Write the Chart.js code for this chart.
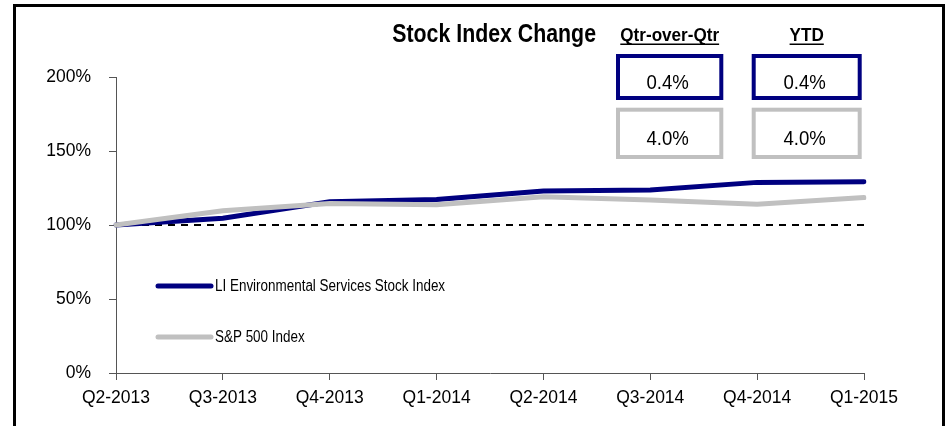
<!DOCTYPE html>
<html>
<head>
<meta charset="utf-8">
<script src="https://cdn.jsdelivr.net/npm/chart.js@4.4.1/dist/chart.umd.min.js"></script>
<style>
  html, body { margin: 0; padding: 0; background: #ffffff; }
  #wrap { position: relative; width: 950px; height: 426px; overflow: hidden; }
  #frame { position: absolute; left: 13px; top: 4px; width: 932px; height: 440px; border: 3px solid #000; box-sizing: border-box; }
  #c { position: absolute; left: 0; top: 0; }
</style>
</head>
<body>
<div id="wrap">
  <div id="frame"></div>
  <canvas id="c" width="950" height="426"></canvas>
</div>
<script>
// ---- data ----
const quarters = ['Q2-2013','Q3-2013','Q4-2013','Q1-2014','Q2-2014','Q3-2014','Q4-2014','Q1-2015'];
const liIndex  = [100, 104.5, 115.7, 117.3, 122.9, 123.6, 128.8, 129.3];
const spIndex  = [100, 109.6, 114.6, 113.7, 119.1, 116.9, 114.0, 118.5];
const baseline = [100, 100, 100, 100, 100, 100, 100, 100];
const seriesNames = ['LI Environmental Services Stock Index', 'S&P 500 Index'];
const qoqChange = ['0.4%', '4.0%'];
const ytdChange = ['0.4%', '4.0%'];
const yTicks = [0, 50, 100, 150, 200];
const chartTitle = 'Stock Index Change';
const colHeaders = ['Qtr-over-Qtr', 'YTD'];

const NAVY = '#000080';
const GRAY = '#C0C0C0';
const FONT = "'Liberation Sans',Arial,sans-serif";

function drawText(ctx, text, x, y, align, font, sx) {
  ctx.save();
  ctx.font = font;
  ctx.textAlign = align;
  ctx.translate(x, y);
  ctx.scale(sx, 1);
  ctx.fillText(text, 0, 0);
  const w = ctx.measureText(text).width * sx;
  ctx.restore();
  return w;
}

const overlayPlugin = {
  id: 'overlay',
  afterDatasetsDraw(chart) {
    const ctx = chart.ctx;
    const ca = chart.chartArea;
    ctx.save();
    ctx.fillStyle = '#000';
    // legend inside plot area
    const series = chart.data.datasets.filter(d => d.showInLegend);
    series.forEach((ds, i) => {
      const y = ca.top + 209 + i * 51;
      ctx.beginPath();
      ctx.strokeStyle = ds.borderColor;
      ctx.lineWidth = ds.borderWidth;
      ctx.lineCap = 'round';
      ctx.moveTo(ca.left + 42, y);
      ctx.lineTo(ca.left + 95, y);
      ctx.stroke();
      ctx.textBaseline = 'middle';
      drawText(ctx, ds.label, ca.left + 99, y + 1, 'left', '16px ' + FONT, 0.84);
    });
    ctx.textBaseline = 'alphabetic';
    // title
    drawText(ctx, chartTitle, 596, 42, 'right', 'bold 26px ' + FONT, 0.82);
    // column headers, underlined
    const cols = [
      {cx: 669.7, left: 616, right: 723.3, vals: qoqChange},
      {cx: 806.7, left: 751.7, right: 861.7, vals: ytdChange}
    ];
    cols.forEach((c, i) => {
      const w = drawText(ctx, colHeaders[i], c.cx, 41, 'center', 'bold 19px ' + FONT, 0.9);
      ctx.fillRect(c.cx - w / 2, 43.5, w, 1.5);
    });
    // value boxes
    const colors = [NAVY, GRAY];
    const rows = [{top: 54, bottom: 100, base: 89}, {top: 107.7, bottom: 159, base: 145}];
    cols.forEach(c => {
      rows.forEach((r, j) => {
        ctx.strokeStyle = colors[j];
        ctx.lineWidth = 4;
        ctx.strokeRect(c.left + 2, r.top + 2, (c.right - c.left) - 4, (r.bottom - r.top) - 4);
        drawText(ctx, c.vals[j], c.cx - 2, r.base, 'center', '20px ' + FONT, 0.93);
      });
    });
    ctx.restore();
  }
};

new Chart(document.getElementById('c'), {
  type: 'line',
  data: {
    labels: quarters,
    datasets: [
      { label: 'baseline', data: baseline, borderColor: '#000', borderWidth: 2, borderDash: [7, 6],
        pointRadius: 0, fill: false, order: 3, showInLegend: false },
      { label: seriesNames[0], data: liIndex, borderColor: NAVY, borderWidth: 5,
        pointRadius: 0, tension: 0, fill: false, order: 2, showInLegend: true, borderCapStyle: 'round' },
      { label: seriesNames[1], data: spIndex, borderColor: GRAY, borderWidth: 5,
        pointRadius: 0, tension: 0, fill: false, order: 1, showInLegend: true, borderCapStyle: 'round' }
    ]
  },
  options: {
    responsive: false,
    animation: false,
    devicePixelRatio: 1,
    layout: { padding: { left: 0, right: 86, top: 77, bottom: 0 } },
    plugins: { legend: { display: false }, tooltip: { enabled: false }, title: { display: false } },
    scales: {
      x: {
        type: 'category',
        offset: false,
        grid: { drawOnChartArea: false, drawTicks: true, tickLength: 7, color: '#555' },
        border: { color: '#555', width: 1 },
        ticks: { color: '#000', font: { family: FONT, size: 17.5 }, padding: 8, maxRotation: 0, autoSkip: false },
        afterFit(s) { s.height = 53; }
      },
      y: {
        min: 0, max: 200,
        grid: { drawOnChartArea: false, drawTicks: true, tickLength: 7, color: '#555' },
        border: { color: '#555', width: 1 },
        afterBuildTicks(s) { s.ticks = yTicks.map(v => ({ value: v })); },
        ticks: { color: '#000', font: { family: FONT, size: 17.5 }, padding: 18,
                 callback: v => v + '%' },
        afterFit(s) { s.width = 116; }
      }
    }
  },
  plugins: [overlayPlugin]
});
</script>
</body>
</html>
